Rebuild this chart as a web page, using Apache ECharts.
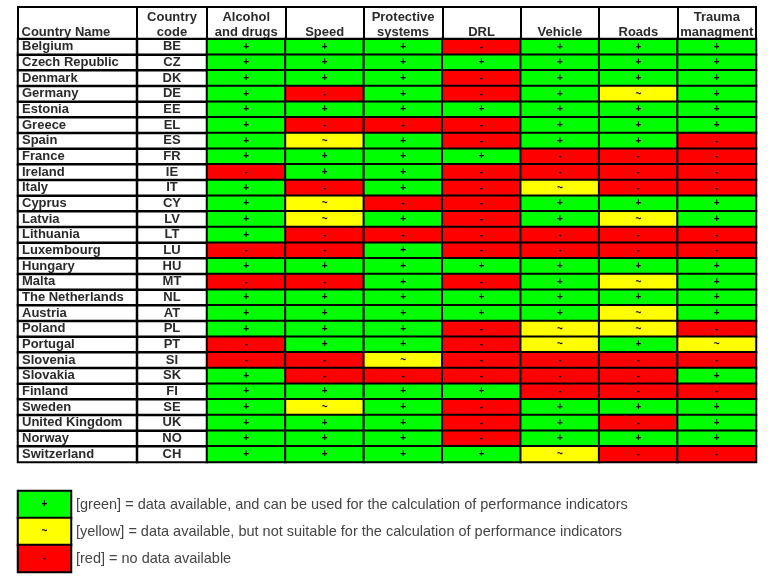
<!DOCTYPE html>
<html>
<head>
<meta charset="utf-8">
<script src="https://cdn.jsdelivr.net/npm/echarts@6/dist/echarts.min.js"></script>
<style>html,body{margin:0;padding:0;background:#fff}#c{width:775px;height:584px}</style>
</head>
<body>
<div id="c"></div>
<script>
const countries = ['Belgium','Czech Republic','Denmark','Germany','Estonia','Greece','Spain','France','Ireland','Italy','Cyprus','Latvia','Lithuania','Luxembourg','Hungary','Malta','The Netherlands','Austria','Poland','Portugal','Slovenia','Slovakia','Finland','Sweden','United Kingdom','Norway','Switzerland'];
const codes = ['BE','CZ','DK','DE','EE','EL','ES','FR','IE','IT','CY','LV','LT','LU','HU','MT','NL','AT','PL','PT','SI','SK','FI','SE','UK','NO','CH'];
const indicators = ['Alcohol\nand drugs','Speed','Protective\nsystems','DRL','Vehicle','Roads','Trauma\nmanagment'];
const alcohol    = ['+','+','+','+','+','+','+','+','-','+','+','+','+','-','+','-','+','+','+','-','-','+','+','+','+','+','+'];
const speed      = ['+','+','+','-','+','-','~','+','+','-','~','~','-','-','+','-','+','+','+','+','-','-','+','~','+','+','+'];
const protective = ['+','+','+','+','+','-','+','+','+','+','-','+','-','+','+','+','+','+','+','+','~','-','+','+','+','+','+'];
const drl        = ['-','+','-','-','+','-','-','+','-','-','-','-','-','-','+','-','+','+','-','-','-','-','+','-','-','-','+'];
const vehicle    = ['+','+','+','+','+','+','+','-','-','~','+','+','-','-','+','+','+','+','~','~','-','-','-','+','+','+','~'];
const roads      = ['+','+','+','~','+','+','+','-','-','-','+','~','-','-','+','~','+','~','~','+','-','-','-','+','-','+','-'];
const trauma     = ['+','+','+','+','+','+','-','-','-','-','+','+','-','-','+','+','+','+','-','~','-','+','-','+','+','+','-'];
const symbols = ['+','~','-'];
const legendTexts = ['[green] = data available, and can be used for the calculation of performance indicators','[yellow] = data available, but not suitable for the calculation of performance indicators','[red] = no data available'];

const columns = [alcohol, speed, protective, drl, vehicle, roads, trauma];
const cellData = [];
columns.forEach((col, i) => col.forEach((v, j) => cellData.push([i, j, symbols.indexOf(v)])));
const nameData = countries.map((c, j) => [0, j, 0]);
const codeData = codes.map((c, j) => [0, j, 0]);
const legendData = symbols.map((s, k) => [0, k, k]);

const FONT = 'Liberation Sans, Arial, sans-serif';
const border = {borderColor: '#000', borderWidth: 2};
const tick = {show: true, length: 32, lineStyle: {color: '#000', width: 2}};
const axLine = {show: true, lineStyle: {color: '#000', width: 2}};
const headLabel = {interval: 0, fontFamily: FONT, fontSize: 13, fontWeight: 'bold', color: '#2a2a2a', lineHeight: 15, margin: -1};

const chart = echarts.init(document.getElementById('c'));
chart.setOption({
  animation: false,
  backgroundColor: '#fff',
  graphic: [{type: 'rect', shape: {x: 18, y: 7, width: 738, height: 32}, style: {fill: 'none', stroke: '#000', lineWidth: 2}, z: 10}],
  grid: [
    {left: 18, width: 119, top: 39, height: 423},
    {left: 137, width: 70, top: 39, height: 423},
    {left: 207, right: 19, top: 39, height: 423},
    {left: 18, width: 53, top: 491, height: 81}
  ],
  xAxis: [
    {gridIndex: 0, type: 'category', data: ['Country Name'], position: 'top', axisLine: axLine, axisTick: tick,
     axisLabel: Object.assign({}, headLabel, {formatter: v => '{a|' + v + '}', rich: {a: {width: 112, align: 'left', fontFamily: FONT, fontSize: 13, fontWeight: 'bold', color: '#2a2a2a', lineHeight: 15}}})},
    {gridIndex: 1, type: 'category', data: ['Country\ncode'], position: 'top', axisLine: axLine, axisTick: tick, axisLabel: headLabel},
    {gridIndex: 2, type: 'category', data: indicators, position: 'top', axisLine: axLine, axisTick: tick, axisLabel: headLabel},
    {gridIndex: 3, type: 'category', data: ['key'], show: false}
  ],
  yAxis: [
    {gridIndex: 0, type: 'category', data: countries, inverse: true, axisLine: {show: false}, axisTick: {show: false},
     axisLabel: {inside: true, margin: 4, interval: 0, fontFamily: FONT, fontSize: 13, fontWeight: 'bold', color: '#2a2a2a'}},
    {gridIndex: 1, type: 'category', data: codes, inverse: true, show: false},
    {gridIndex: 2, type: 'category', data: countries, inverse: true, show: false},
    {gridIndex: 3, type: 'category', data: legendTexts, inverse: true, position: 'right', axisLine: {show: false}, axisTick: {show: false},
     axisLabel: {margin: 5, interval: 0, fontFamily: FONT, fontSize: 14.5, color: '#444'}}
  ],
  visualMap: {type: 'piecewise', show: false, dimension: 2, seriesIndex: [2, 3],
    pieces: [{value: 0, color: '#00ff00'}, {value: 1, color: '#ffff00'}, {value: 2, color: '#ff0000'}]},
  series: [
    {type: 'heatmap', xAxisIndex: 0, yAxisIndex: 0, data: nameData, itemStyle: Object.assign({color: 'rgba(0,0,0,0)'}, border), label: {show: false}},
    {type: 'heatmap', xAxisIndex: 1, yAxisIndex: 1, data: codeData, itemStyle: Object.assign({color: 'rgba(0,0,0,0)'}, border),
     label: {show: true, formatter: p => codes[p.data[1]], fontFamily: FONT, fontSize: 13, fontWeight: 'bold', color: '#2a2a2a'}},
    {type: 'heatmap', xAxisIndex: 2, yAxisIndex: 2, data: cellData, itemStyle: border,
     label: {show: true, formatter: p => symbols[p.data[2]], fontFamily: FONT, fontSize: 10, fontWeight: 'bold', color: '#000'}},
    {type: 'heatmap', xAxisIndex: 3, yAxisIndex: 3, data: legendData, itemStyle: border,
     label: {show: true, formatter: p => symbols[p.data[2]], fontFamily: FONT, fontSize: 10, fontWeight: 'bold', color: '#000'}}
  ]
});
</script>
</body>
</html>
